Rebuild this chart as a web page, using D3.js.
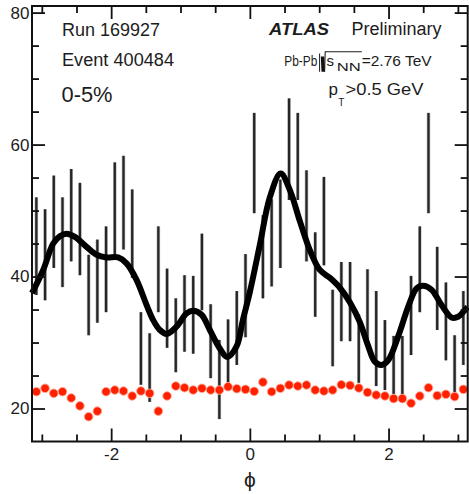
<!DOCTYPE html>
<html><head><meta charset="utf-8">
<script src="https://cdn.jsdelivr.net/npm/d3@7"></script>
<style>
body{margin:0;background:#fff}
svg{display:block}
text{font-family:"Liberation Sans",Arial,Helvetica,sans-serif;fill:#1c1c1c}
</style>
</head><body>
<svg id="c" width="469" height="494"></svg>
<script>
// ---- data ----
const nBins = 50;
const chargedVal = [44.6,43.3,48.3,45.2,49.3,47.2,37.2,39.3,41.1,50.3,
  51.2,46.5,29.1,26.2,41.1,35.2,31.1,34.4,34.2,40.7,
  30.2,24.4,28.7,32.2,37.1,57.2,43.0,45.1,48.0,59.3,
  58.2,49.2,40.3,48.4,32.2,36.2,36.2,29.1,35.2,30.6,
  28.1,26.6,26.3,34.1,41.1,57.2,38.2,33.2,26.4,32.2];
const chargedErr = [7.4,6.9,7.0,6.8,7.0,7.0,6.1,6.3,6.5,7.0,
  7.1,6.7,5.5,5.2,6.5,6.0,5.6,5.8,5.9,5.8,
  5.6,6.0,4.8,5.6,6.3,7.6,6.3,6.6,6.7,7.7,
  6.6,6.9,6.4,6.7,5.8,6.0,6.0,5.2,5.9,7.2,
  5.3,4.4,4.7,6.0,6.5,7.6,6.3,5.9,4.7,5.6];
const redVal = [22.55,23.06,22.3,22.55,21.6,20.4,18.76,19.6,22.55,22.8,
  22.65,21.9,22.65,22.3,19.6,21.9,23.4,23.15,22.8,23.06,
  22.8,22.8,23.3,23.0,22.9,22.6,24.0,22.55,23.06,23.56,
  23.4,23.56,22.8,22.65,22.8,23.6,23.5,23.1,22.45,22.05,
  21.9,21.5,21.5,20.8,21.9,23.15,21.95,22.15,21.8,22.9];
const fitPhi = [-3.1416,-2.98,-2.836,-2.74,-2.643,-2.523,-2.355,-2.21,-2.066,-1.899,
  -1.778,-1.634,-1.49,-1.394,-1.298,-1.201,-1.057,-0.913,-0.818,-0.696,
  -0.577,-0.433,-0.327,-0.192,-0.101,0,0.144,0.288,0.443,0.577,
  0.721,0.865,1.009,1.154,1.298,1.442,1.586,1.702,1.802,1.899,
  1.994,2.138,2.283,2.404,2.499,2.62,2.764,2.908,3.004,3.1,3.1416];
const fitVal = [37.5,41.0,45.0,46.1,46.5,46.0,44.5,43.3,42.9,42.9,
  42.0,39.5,35.7,33.4,31.9,31.3,32.4,34.4,34.8,34.2,
  31.9,29.1,27.8,29.4,33.4,37.65,44.8,52.0,55.6,53.1,
  48.4,44.0,41.0,39.8,38.3,36.1,33.1,29.6,27.1,26.6,
  27.3,30.9,35.4,38.2,38.6,38.0,35.7,33.8,33.9,34.9,35.4];
const xTickLabels = [-2, 0, 2];
const xMinorTicks = [-3,-2.5,-2,-1.5,-1,-0.5,0,0.5,1,1.5,2,2.5,3];
const yTickLabels = [20, 40, 60, 80];
const yMinorTicks = [20,25,30,35,40,45,50,55,60,65,70,75,80];

// ---- layout ----
const L = 32, R = 467.7, T = 6, B = 441.5;
const svg = d3.select("#c");
const x = d3.scaleLinear().domain([-Math.PI, Math.PI]).range([L, R]);
const y = d3.scaleLinear().domain([15, 81]).range([B, T]);
const binW = 2*Math.PI/nBins;
const binPhi = d3.range(nBins).map(i => -Math.PI + (i+0.5)*binW);

// error bars
const gb = svg.append("g");
gb.selectAll("line").data(d3.range(nBins)).join("line")
  .attr("x1", i => x(binPhi[i])).attr("x2", i => x(binPhi[i]))
  .attr("y1", i => y(chargedVal[i]-chargedErr[i]))
  .attr("y2", i => y(chargedVal[i]+chargedErr[i]))
  .attr("stroke", "#bdbdbd").attr("stroke-width", 3.6);
gb.selectAll("line.c").data(d3.range(nBins)).join("line").attr("class","c")
  .attr("x1", i => x(binPhi[i])).attr("x2", i => x(binPhi[i]))
  .attr("y1", i => y(chargedVal[i]-chargedErr[i]))
  .attr("y2", i => y(chargedVal[i]+chargedErr[i]))
  .attr("stroke", "#262626").attr("stroke-width", 2.3);

// fit curve
const line = d3.line().x(d => x(d[0])).y(d => y(d[1])).curve(d3.curveCatmullRom.alpha(0.5));
svg.append("path").datum(fitPhi.map((p,i)=>[p, fitVal[i]]))
  .attr("d", line).attr("fill","none").attr("stroke","#000")
  .attr("stroke-width", 6).attr("stroke-linejoin","round");

// red points
svg.append("g").selectAll("circle").data(d3.range(nBins)).join("circle")
  .attr("cx", i => x(binPhi[i])).attr("cy", i => y(redVal[i]))
  .attr("r", 4.3).attr("fill", "#ff2000").attr("stroke", "#ffaa99").attr("stroke-width", 0.9);

const axStyle = g => { g.select(".domain").remove(); g.selectAll("line").attr("stroke","#111").attr("stroke-width",1.8); };
const isMajorX = v => xTickLabels.includes(v);
const isMajorY = v => yTickLabels.includes(v);

// bottom axis
svg.append("g").attr("transform",`translate(0,${B})`)
  .call(d3.axisBottom(x).tickValues(xMinorTicks.filter(v=>!isMajorX(v))).tickSize(-7).tickFormat(""))
  .call(axStyle);
svg.append("g").attr("transform",`translate(0,${B})`)
  .call(d3.axisBottom(x).tickValues(xTickLabels).tickSize(-13).tickPadding(6).tickFormat(d3.format("d")))
  .call(axStyle)
  .call(g => g.selectAll("text").attr("font-size", 17).attr("fill","#1c1c1c")
      .attr("font-family","Liberation Sans, Arial, sans-serif").text(d => d < 0 ? "-" + Math.abs(d) : d));
// top axis
svg.append("g").attr("transform",`translate(0,${T})`)
  .call(d3.axisTop(x).tickValues(xMinorTicks.filter(v=>!isMajorX(v))).tickSize(-7).tickFormat(""))
  .call(axStyle);
svg.append("g").attr("transform",`translate(0,${T})`)
  .call(d3.axisTop(x).tickValues(xTickLabels).tickSize(-13).tickFormat(""))
  .call(axStyle);
// left axis
svg.append("g").attr("transform",`translate(${L},0)`)
  .call(d3.axisLeft(y).tickValues(yMinorTicks.filter(v=>!isMajorY(v))).tickSize(-7).tickFormat(""))
  .call(axStyle);
svg.append("g").attr("transform",`translate(${L},0)`)
  .call(d3.axisLeft(y).tickValues(yTickLabels).tickSize(-13).tickPadding(2.5).tickFormat(d3.format("d")))
  .call(axStyle)
  .call(g => g.selectAll("text").attr("font-size", 17).attr("fill","#1c1c1c")
      .attr("font-family","Liberation Sans, Arial, sans-serif"));
// right axis
svg.append("g").attr("transform",`translate(${R},0)`)
  .call(d3.axisRight(y).tickValues(yMinorTicks.filter(v=>!isMajorY(v))).tickSize(-7).tickFormat(""))
  .call(axStyle);
svg.append("g").attr("transform",`translate(${R},0)`)
  .call(d3.axisRight(y).tickValues(yTickLabels).tickSize(-13).tickFormat(""))
  .call(axStyle);

svg.append("rect").attr("x",L).attr("y",T).attr("width",R-L).attr("height",B-T)
  .attr("fill","none").attr("stroke","#111").attr("stroke-width",2);

// axis title
svg.append("text").attr("x", 250).attr("y", 487).attr("text-anchor","middle")
  .attr("font-family","DejaVu Sans, sans-serif").attr("font-size", 21).text("ϕ");

// labels
const t = (s, xx, yy, size, opts={}) => {
  const e = svg.append("text").attr("x",xx).attr("y",yy).attr("font-size",size).text(s);
  if (opts.w) e.attr("textLength", opts.w).attr("lengthAdjust","spacingAndGlyphs");
  if (opts.weight) e.attr("font-weight", opts.weight);
  if (opts.style) e.attr("font-style", opts.style);
  return e;
};
t("Run 169927", 62, 36, 18, {w: 98});
t("Event 400484", 62, 65.7, 18, {w: 112});
t("0-5%", 61.5, 101.5, 22, {w: 51});
t("ATLAS", 269, 35, 17, {w: 60, weight: "bold", style: "italic"});
t("Preliminary", 351.5, 35.3, 18, {w: 90});
t("Pb-Pb", 284.3, 65.7, 15, {w: 33});
// radical sign
svg.append("path").attr("d","M319.6,53.5 L319.6,71.8").attr("stroke","#1c1c1c").attr("stroke-width",1);
svg.append("path").attr("d","M320.8,56.5 L324.2,56.5 L325,71.8 L321.5,71.8 Z").attr("fill","#111");
svg.append("path").attr("d","M324.6,71.8 L325.2,51.8 L361.8,51.8").attr("fill","none").attr("stroke","#1c1c1c").attr("stroke-width",1.1);
t("s", 326.5, 65.7, 15);
t("NN", 336.8, 70.6, 10, {w: 24});
t("=2.76 TeV", 361.7, 65.7, 15, {w: 70});
t("p", 328.5, 95.2, 17);
t("T", 338.3, 105.5, 10);
t(">0.5 GeV", 345.5, 95.2, 17, {w: 78});
</script>
</body></html>
